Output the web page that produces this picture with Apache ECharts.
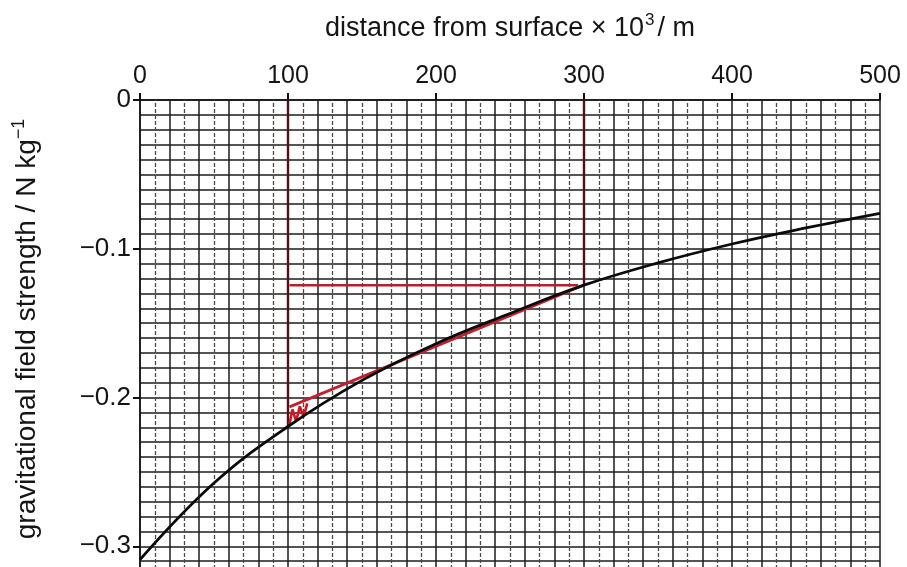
<!DOCTYPE html>
<html>
<head>
<meta charset="utf-8">
<script src="https://cdn.jsdelivr.net/npm/echarts@6/dist/echarts.min.js"></script>
<style>
html,body{margin:0;padding:0;background:#fff;}
#chart{width:907px;height:567px;}
</style>
</head>
<body>
<div id="chart"></div>
<script>
// distance from surface (x 10^3 m)
var curveX = [0, 50, 100, 150, 200, 250, 300, 350, 400, 450, 500];
// gravitational field strength (N kg^-1)
var curveG = [-0.309, -0.2575, -0.2195, -0.1885, -0.1638, -0.1435, -0.1245, -0.1095, -0.0968, -0.0860, -0.0762];

var xTicks = [0, 100, 200, 300, 400, 500];
var yTicks = [0, -0.1, -0.2, -0.3];
var oddGridX = [10, 30, 50, 70, 90, 110, 130, 150, 170, 190, 210, 230, 250, 270, 290, 310, 330, 350, 370, 390, 410, 430, 450, 470, 490];

// construction lines drawn on the graph
var vert100 = [[100, 0], [100, -0.2195]];
var vert300 = [[300, 0], [300, -0.1245]];
var horiz = [[101, -0.1245], [296, -0.1245]];
var tangent = [[101, -0.2063], [300, -0.1244]];
var scribble = [[101, -0.2180], [103, -0.2080], [105.5, -0.2160], [108, -0.2060], [110.5, -0.2130], [113, -0.2040]];

var FONT = "'Liberation Sans', Arial, sans-serif";
var chart = echarts.init(document.getElementById('chart'), null, {renderer: 'canvas'});

function fmtY(v) {
  if (Math.abs(v) < 1e-9) return '0';
  return '\u2212' + Math.abs(v).toFixed(1);
}

var option = {
  backgroundColor: '#ffffff',
  animation: false,
  grid: {left: 140, right: 27, top: 100, height: 595, outerBoundsMode: 'none', containLabel: false},
  xAxis: {
    type: 'value', position: 'top',
    min: xTicks[0], max: xTicks[xTicks.length - 1], interval: 100,
    name: '{t|distance from surface \u00d7 10}{s|3}{t|/ m}',
    nameLocation: 'middle', nameGap: 55,
    nameTextStyle: {
      rich: {
        t: {fontFamily: FONT, fontSize: 27, color: '#151515'},
        s: {fontFamily: FONT, fontSize: 17, color: '#151515', verticalAlign: 'top', padding: [0, 3, 16, 1]}
      }
    },
    axisLine: {show: true, lineStyle: {color: '#111', width: 1.5}},
    axisTick: {show: true, inside: false, length: 7, lineStyle: {color: '#111', width: 2}},
    axisLabel: {fontFamily: FONT, fontSize: 25, color: '#151515', margin: 11},
    splitLine: {show: true, lineStyle: {color: '#1a1a1a', width: 1.5}},
    minorTick: {show: true, splitNumber: 5, length: 0},
    minorSplitLine: {show: true, lineStyle: {color: '#1e1e1e', width: 1.5}}
  },
  yAxis: {
    type: 'value',
    min: -0.4, max: 0, interval: 0.1,
    axisLine: {show: true, onZero: false, lineStyle: {color: '#111', width: 1.5}},
    axisTick: {show: true, inside: false, length: 7, lineStyle: {color: '#111', width: 2}},
    axisLabel: {fontFamily: FONT, fontSize: 26, color: '#151515', margin: 9, formatter: fmtY},
    splitLine: {show: true, lineStyle: {color: '#1a1a1a', width: 1.5}},
    minorTick: {show: true, splitNumber: 10, length: 0},
    minorSplitLine: {show: true, lineStyle: {color: '#1e1e1e', width: 1.5}}
  },
  graphic: [{
    type: 'text',
    x: 27, y: 329,
    rotation: Math.PI / 2,
    style: {
      text: '{t|gravitational field strength / N kg}{s|\u22121}',
      rich: {
        t: {fontFamily: FONT, fontSize: 28, fill: '#151515'},
        s: {fontFamily: FONT, fontSize: 18, fill: '#151515', verticalAlign: 'top', padding: [0, 0, 16, 0]}
      },
      align: 'center', verticalAlign: 'middle'
    },
    originX: 0, originY: 0
  }],
  series: [
    {
      name: 'oddgrid', type: 'line', data: [], silent: true,
      markLine: {
        silent: true, symbol: 'none', label: {show: false},
        lineStyle: {color: '#4a4a4a', width: 1.3, type: [4, 2]},
        data: oddGridX.map(function (v) { return {xAxis: v}; })
      }
    },
    {type: 'line', data: vert100, symbol: 'none', lineStyle: {color: '#541218', width: 2.4}, z: 5},
    {type: 'line', data: vert300, symbol: 'none', lineStyle: {color: '#541218', width: 2.4}, z: 5},
    {type: 'line', data: horiz, symbol: 'none', lineStyle: {color: '#b4202c', width: 2.4}, z: 5},
    {type: 'line', data: tangent, symbol: 'none', lineStyle: {color: '#c4202c', width: 2.8}, z: 5},
    {type: 'line', data: scribble, symbol: 'none', lineStyle: {color: '#d4141e', width: 2.6}, z: 5},
    {
      type: 'line', smooth: 0.4, symbol: 'none', z: 6,
      data: curveX.map(function (x, i) { return [x, curveG[i]]; }),
      lineStyle: {color: '#0a0a0a', width: 2.8}
    }
  ]
};
chart.setOption(option);
</script>
</body>
</html>
